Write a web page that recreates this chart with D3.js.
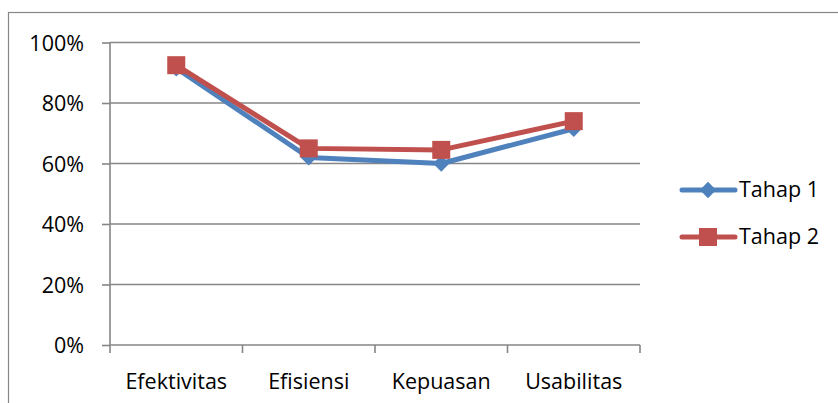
<!DOCTYPE html>
<html><head><meta charset="utf-8">
<script src="https://cdn.jsdelivr.net/npm/d3@7"></script>
<style>body{margin:0;background:#fff}svg{display:block}text{font-family:"Open Sans",sans-serif;fill:#000}</style>
</head><body>
<svg id="c" width="838" height="403"></svg>
<script>
const categories = ["Efektivitas","Efisiensi","Kepuasan","Usabilitas"];
const tahap1 = [0.915, 0.62, 0.60, 0.715];
const tahap2 = [0.925, 0.65, 0.645, 0.74];
const yTicks = [0,0.2,0.4,0.6,0.8,1.0];
const seriesNames = ["Tahap 1","Tahap 2"];
const colors = ["#4F81BD","#C0504D"];

const svg = d3.select("#c");
const L=110, R=640, T=42.5, B=345;
const FS = 21.5;
svg.append("rect").attr("x",8.5).attr("y",12.5).attr("width",900).attr("height",500).attr("fill","none").attr("stroke","#868686").attr("stroke-width",1.2);

const x = d3.scaleBand().domain(categories).range([L,R]).paddingInner(0).paddingOuter(0);
const y = d3.scaleLinear().domain([0,1]).range([B,T]);

// gridlines
svg.append("g").selectAll("line").data(yTicks.filter(d=>d>0)).join("line")
  .attr("x1",L).attr("x2",R).attr("y1",d=>y(d)).attr("y2",d=>y(d))
  .attr("stroke","#868686").attr("stroke-width",1.6);

// y axis
const ya = svg.append("g").attr("transform",`translate(${L},0)`)
  .call(d3.axisLeft(y).tickValues(yTicks).tickFormat(d3.format(".0%")).tickSize(8).tickPadding(18));
ya.select(".domain").attr("stroke","#868686").attr("stroke-width",1.6).attr("d",`M0,${B}V${T}`);
ya.selectAll(".tick line").attr("stroke","#868686").attr("stroke-width",1.6);
ya.selectAll(".tick text").attr("font-size",FS).style("font-family","Open Sans").attr("dy","0.36em");

// x axis
const xa = svg.append("g").attr("transform",`translate(0,${B})`)
  .call(d3.axisBottom(x).tickSize(0).tickPadding(0));
xa.select(".domain").attr("stroke","#868686").attr("stroke-width",1.6).attr("d",`M${L},0H${R}`);
xa.selectAll(".tick text").attr("font-size",FS).style("font-family","Open Sans").attr("y",43.5).attr("dy",0);
const bounds = [L, ...categories.map(c=>x(c)+x.bandwidth())];
xa.append("g").selectAll("line").data(bounds).join("line")
  .attr("x1",d=>d).attr("x2",d=>d).attr("y1",0).attr("y2",8)
  .attr("stroke","#868686").attr("stroke-width",1.6);

const cx = c => x(c)+x.bandwidth()/2;
const line = d3.line().x((d,i)=>cx(categories[i])).y(d=>y(d));
const diamond = d3.symbol().type(d3.symbolDiamond2).size(170);

[tahap1,tahap2].forEach((s,k)=>{
  svg.append("path").datum(s).attr("d",line).attr("fill","none")
    .attr("stroke",colors[k]).attr("stroke-width",5).attr("stroke-linejoin","round").attr("stroke-linecap","round");
  const g = svg.append("g");
  if(k===0){
    g.selectAll("path").data(s).join("path").attr("d",diamond)
      .attr("transform",(d,i)=>`translate(${cx(categories[i])},${y(d)})`).attr("fill",colors[k]);
  } else {
    g.selectAll("rect").data(s).join("rect")
      .attr("x",(d,i)=>cx(categories[i])-9).attr("y",d=>y(d)-9).attr("width",18).attr("height",18).attr("fill",colors[k]);
  }
});

// legend
const ly = [190, 237];
seriesNames.forEach((n,k)=>{
  const g = svg.append("g");
  g.append("line").attr("x1",682).attr("x2",735).attr("y1",ly[k]).attr("y2",ly[k])
    .attr("stroke",colors[k]).attr("stroke-width",5).attr("stroke-linecap","round");
  if(k===0) g.append("path").attr("d",diamond).attr("transform",`translate(708,${ly[k]})`).attr("fill",colors[k]);
  else g.append("rect").attr("x",699).attr("y",ly[k]-9).attr("width",18).attr("height",18).attr("fill",colors[k]);
  g.append("text").attr("x",739).attr("y",ly[k]+6.8).attr("font-size",FS).text(n);
});
</script>
</body></html>
